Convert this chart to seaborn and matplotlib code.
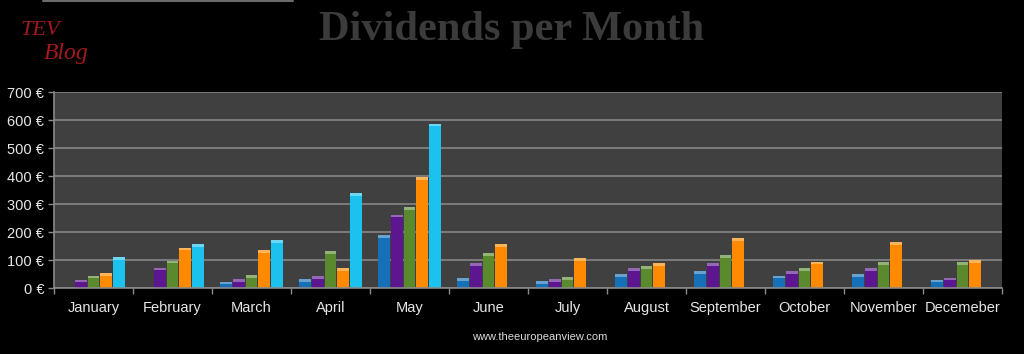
import numpy as np
import pandas as pd
import seaborn as sns
import matplotlib.pyplot as plt
import matplotlib.colors as mcolors
from matplotlib.lines import Line2D
from matplotlib.patches import Rectangle

months = ["January", "February", "March", "April", "May", "June", "July",
          "August", "September", "October", "November", "Decemeber"]
years = ["2017", "2018", "2019", "2020", "2021"]
# dividends per month, one list per year (NaN = no bar)
d2017 = [np.nan, np.nan, 23, 33, 188, 36, 26, 50, 60, 44, 50, 30]
d2018 = [30, 73, 33, 43, 262, 88, 32, 70, 88, 61, 71, 37]
d2019 = [44, 98, 46, 131, 289, 125, 39, 77, 118, 70, 92, 92]
d2020 = [54, 144, 135, 70, 396, 156, 108, 88, 179, 94, 165, 100]
d2021 = [111, 156, 171, 339, 587, np.nan, np.nan, np.nan, np.nan, np.nan, np.nan, np.nan]
colors = ["#1670b8", "#5b1690", "#5b8a2e", "#ff8a00", "#1cc2ee"]

rows = []
for year, vals in zip(years, [d2017, d2018, d2019, d2020, d2021]):
    for m, v in zip(months, vals):
        rows.append({"month": m, "year": year, "value": v})
df = pd.DataFrame(rows)

sns.set_style("dark")
plt.rcParams['font.family'] = ['Liberation Sans', 'DejaVu Sans']

fig = plt.figure(figsize=(10.24, 3.54), dpi=100, facecolor="black")
ax = fig.add_axes([0.0527, 0.1864, 0.9258, 0.5536])
ax.set_facecolor("#404040")

sns.barplot(data=df, x="month", y="value", hue="year", order=months,
            hue_order=years, palette=colors, width=0.8, gap=0.06,
            saturation=1, edgecolor="none", legend=False, ax=ax)

ax.set_ylim(0, 700)
ax.set_xlim(-0.5, 11.5)

# light cap on top of each bar (glossy look)
for p in list(ax.patches):
    h = p.get_height()
    if not np.isfinite(h) or h <= 0:
        continue
    fc = np.array(mcolors.to_rgb(p.get_facecolor()))
    light = fc + (1 - fc) * 0.35
    cap = min(10, h * 0.5)
    ax.add_patch(Rectangle((p.get_x(), h - cap), p.get_width(), cap,
                           facecolor=light, edgecolor="none", zorder=p.get_zorder() + 0.1))

ax.set_yticks(range(0, 701, 100))
ax.set_yticklabels([f"{v} €" for v in range(0, 701, 100)])
ax.yaxis.grid(True, color="#7c7c7c", lw=1.4)
ax.xaxis.grid(False)
ax.set_axisbelow(True)
ax.set_xlabel("")
ax.set_ylabel("")
ax.set_xticks(np.arange(-0.5, 12, 1), minor=True)
ax.tick_params(axis="x", which="major", length=0, pad=9, labelsize=10.5, labelcolor="#e6e6e6")
ax.tick_params(axis="x", which="minor", length=4, color="#8a8a8a", width=1, direction="out", bottom=True)
ax.tick_params(axis="y", length=4, color="#8a8a8a", width=1, direction="out", left=True,
               labelsize=10.5, labelcolor="#e6e6e6", pad=3)
for s in ["top", "right"]:
    ax.spines[s].set_visible(False)
for s in ["left", "bottom"]:
    ax.spines[s].set_visible(True)
    ax.spines[s].set_color("#8a8a8a")
    ax.spines[s].set_linewidth(1.2)

fig.text(0.5, 0.915, "Dividends per Month", ha="center", va="center",
         fontsize=30.5, fontweight="bold", color="#3b3b3b", family="Liberation Serif")
fig.text(0.02, 0.915, "TEV", fontsize=16, style="italic", color="#a3191c",
         family="Liberation Serif", va="center")
fig.text(0.043, 0.85, "Blog", fontsize=17, style="italic", color="#a3191c",
         family="Liberation Serif", va="center")
fig.text(0.527, 0.048, "www.theeuropeanview.com", ha="center", va="center",
         fontsize=8, color="#dcdcdc")
fig.add_artist(Line2D([0.042, 0.286], [0.998, 0.998], color="#6a6a6a", lw=1.5))

plt.savefig("out.png", dpi=100, facecolor="black")
